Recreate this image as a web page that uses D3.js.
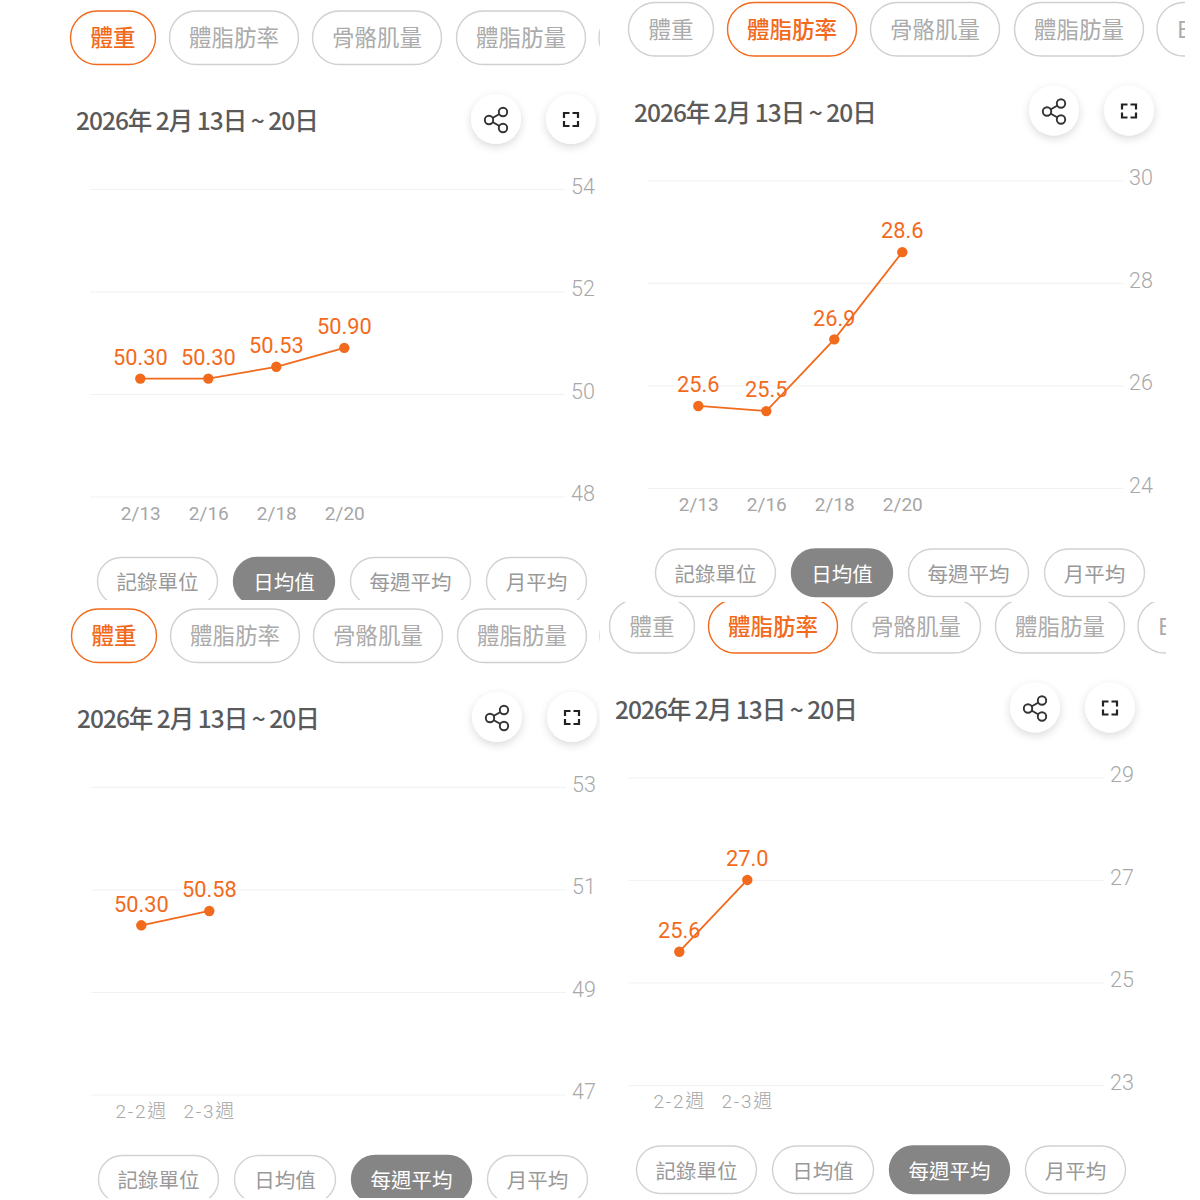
<!DOCTYPE html>
<html><head><meta charset="utf-8">
<script src="https://cdn.jsdelivr.net/npm/d3@7"></script>
<style>
html,body{margin:0;padding:0;background:#fff}
svg{display:block}
text{font-family:"Noto Sans CJK TC","Noto Sans",sans-serif}
</style></head><body>
<svg id="c" width="1200" height="1200"></svg>
<script>
const dailyDates = ["2/13","2/16","2/18","2/20"];
const weekLabels = ["2-2週","2-3週"];
const weightDaily = [50.30,50.30,50.53,50.90];
const fatRateDaily = [25.6,25.5,26.9,28.6];
const weightWeekly = [50.30,50.58];
const fatRateWeekly = [25.6,27.0];
const weightDailyTicks = [48,50,52,54];
const fatRateDailyTicks = [24,26,28,30];
const weightWeeklyTicks = [47,49,51,53];
const fatRateWeeklyTicks = [23,25,27,29];
const metricTabs = ["體重","體脂肪率","骨骼肌量","體脂肪量","E"];
const periodTabs = ["記錄單位","日均值","每週平均","月平均"];
const dateTitle = "2026年 2月 13日 ~ 20日";

const ORANGE="#f26a1c";
const svg=d3.select("#c");
const defs=svg.append("defs");
const f=defs.append("filter").attr("id","sh").attr("x","-40%").attr("y","-40%").attr("width","180%").attr("height","190%");
f.append("feDropShadow").attr("dx",0).attr("dy",3).attr("stdDeviation",4).attr("flood-color","#000").attr("flood-opacity",0.15);

const metricGeom=[[70.5,85],[169.5,129],[312.5,129],[456.5,129],[599,90]];
const periodGeom=[[97.5,120],[233.5,101],[350.5,120],[486.5,100]];

const panels=[
 {id:"a",dx:0,dy:0,clip:[60,0,540,600],labels:dailyDates,vals:weightDaily,ticks:weightDailyTicks,metric:0,period:1,fmt:d3.format(".2f"),lastText:false,weekly:false},
 {id:"b",dx:558,dy:-8.5,clip:[600,0,585,600],labels:dailyDates,vals:fatRateDaily,ticks:fatRateDailyTicks,metric:1,period:1,fmt:d3.format(".1f"),lastText:true,weekly:false},
 {id:"c",dx:1,dy:598,clip:[60,600,540,598],labels:weekLabels,vals:weightWeekly,ticks:weightWeeklyTicks,metric:0,period:2,fmt:d3.format(".2f"),lastText:false,weekly:true},
 {id:"d",dx:539,dy:588.5,clip:[600,602,566,596],labels:weekLabels,vals:fatRateWeekly,ticks:fatRateWeeklyTicks,metric:1,period:2,fmt:d3.format(".1f"),lastText:true,weekly:true}
];

panels.forEach(p=>{
  defs.append("clipPath").attr("id","clip-"+p.id).append("rect")
    .attr("x",p.clip[0]).attr("y",p.clip[1]).attr("width",p.clip[2]).attr("height",p.clip[3]);
  const outer=svg.append("g").attr("clip-path",`url(#clip-${p.id})`);
  const g=outer.append("g").attr("transform",`translate(${p.dx},${p.dy})`);

  // metric tabs
  const mt=g.selectAll("g.m").data(metricTabs).join("g").attr("class","m");
  mt.append("rect").attr("x",(d,i)=>metricGeom[i][0]).attr("y",11).attr("width",(d,i)=>metricGeom[i][1]).attr("height",53.5).attr("rx",26.7)
    .attr("fill","#fff").attr("stroke",(d,i)=>i===p.metric?ORANGE:"#d0d0d0").attr("stroke-width",1.4);
  mt.filter((d,i)=>i<4||p.lastText).append("text")
    .attr("x",d=>{const i=metricTabs.indexOf(d);return i===4?metricGeom[i][0]+20:metricGeom[i][0]+metricGeom[i][1]/2;}).attr("y",46)
    .attr("text-anchor",d=>d==="E"?"start":"middle").attr("font-size",22.5)
    .attr("fill",d=>metricTabs.indexOf(d)===p.metric?ORANGE:"#ababab")
    .attr("font-weight",d=>metricTabs.indexOf(d)===p.metric?500:400).text(d=>d);

  // title
  g.append("text").attr("x",76).attr("y",130).attr("font-size",24.5).attr("font-weight",500).attr("fill","#5a5a5a").attr("letter-spacing",-1).text(dateTitle);

  // icon buttons
  [496,571].forEach(cx=>g.append("circle").attr("cx",cx).attr("cy",119).attr("r",25).attr("fill","#fff").attr("filter","url(#sh)"));
  const share=g.append("g").attr("fill","#fff").attr("stroke","#333").attr("stroke-width",1.9);
  share.append("path").attr("d","M503 112 L489 120 L503 128").attr("fill","none");
  [[503,112,4.2],[489,120,4.2],[503,128,4.2]].forEach(c=>share.append("circle").attr("cx",c[0]).attr("cy",c[1]).attr("r",c[2]));
  g.append("path").attr("d","M564 118V113H569.5M572.5 113H578V118M578 121V126H572.5M569.5 126H564V121").attr("fill","none").attr("stroke","#222").attr("stroke-width",2.2);

  // scales
  const y=d3.scaleLinear().domain([p.ticks[0],p.ticks[3]]).range([496.5,188.9]);
  const x=d3.scalePoint().domain(d3.range(7)).range([140.3,548.3]);

  // y axis
  const ya=g.append("g").attr("transform","translate(565,0)")
    .call(d3.axisRight(y).tickValues(p.ticks).tickSize(-475).tickPadding(6).tickFormat(d3.format("d")));
  ya.select(".domain").remove();
  ya.selectAll("line").attr("stroke","#f1f1f1").attr("stroke-width",1);
  ya.selectAll("text").attr("font-size",21.5).attr("fill","#a8a8a8").attr("dy","0.2em").style("font-family","Roboto").attr("font-weight",300);

  // x axis
  const xa=g.append("g").attr("transform","translate(0,506)")
    .call(d3.axisBottom(x).tickValues(d3.range(p.labels.length)).tickSize(0).tickPadding(0).tickFormat(i=>p.labels[i]));
  xa.select(".domain").remove();
  xa.selectAll("text").attr("font-size",19).attr("fill","#a6a6a6").attr("y",0).attr("dy","0.72em")
    .attr("letter-spacing",p.weekly?1.8:0).style("font-family","Roboto, 'Noto Sans CJK TC'").attr("font-weight",p.weekly?300:400);

  // line
  g.append("path").datum(p.vals)
    .attr("d",d3.line().x((d,i)=>x(i)).y(d=>y(d)))
    .attr("fill","none").attr("stroke",ORANGE).attr("stroke-width",1.8);
  g.selectAll("circle.pt").data(p.vals).join("circle").attr("class","pt")
    .attr("cx",(d,i)=>x(i)).attr("cy",d=>y(d)).attr("r",5.2).attr("fill",ORANGE);
  g.selectAll("text.v").data(p.vals).join("text").attr("class","v")
    .attr("x",(d,i)=>x(i)).attr("y",d=>y(d)-13.8).attr("text-anchor","middle")
    .attr("font-size",21.8).attr("fill",ORANGE).style("font-family","Roboto").text(d=>p.fmt(d));

  // period tabs
  const pt=g.selectAll("g.pd").data(periodTabs).join("g").attr("class","pd");
  pt.append("rect").attr("x",(d,i)=>periodGeom[i][0]).attr("y",557.5).attr("width",(d,i)=>periodGeom[i][1]).attr("height",47.5).attr("rx",23.7)
    .attr("fill",(d,i)=>i===p.period?"#858585":"#fff").attr("stroke",(d,i)=>i===p.period?"#858585":"#d2d2d2").attr("stroke-width",1.4);
  pt.append("text").attr("x",(d,i)=>periodGeom[i][0]+periodGeom[i][1]/2).attr("y",590).attr("text-anchor","middle")
    .attr("font-size",20.5).attr("fill",(d,i)=>i===p.period?"#fff":"#999").text(d=>d);
});
</script>
</body></html>
